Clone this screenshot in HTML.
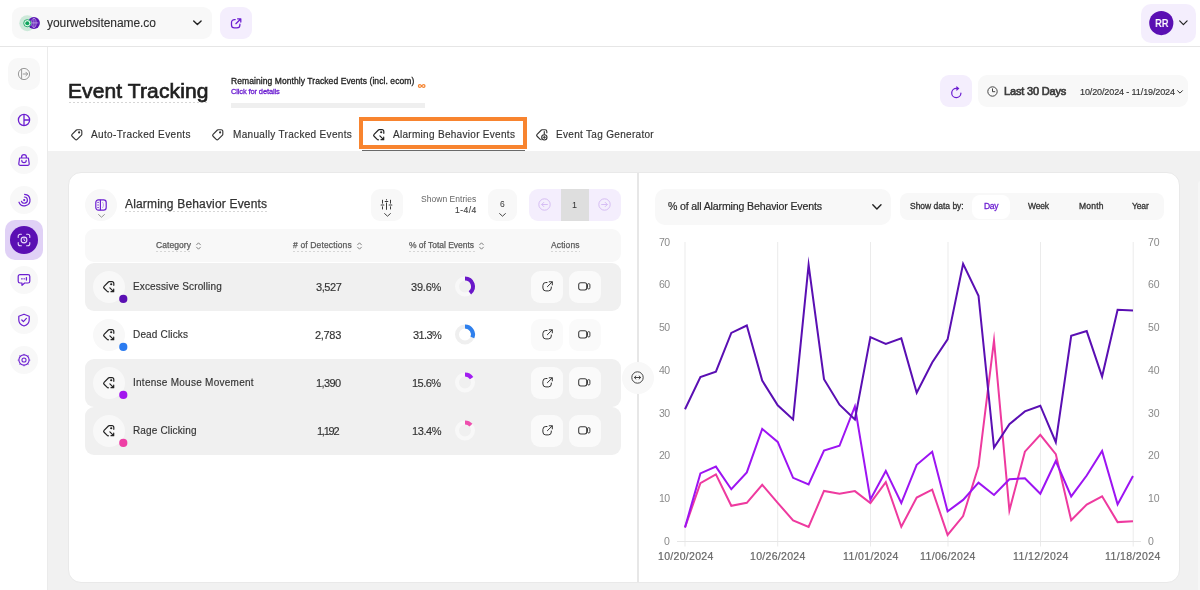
<!DOCTYPE html>
<html>
<head>
<meta charset="utf-8">
<title>Event Tracking</title>
<style>
*{box-sizing:border-box;margin:0;padding:0}
html,body{width:1200px;height:590px;overflow:hidden;background:#fff;font-family:"Liberation Sans",sans-serif;color:#2b2b2b}
.abs{position:absolute}
.t{position:absolute;white-space:pre;line-height:1;color:#2b2b2b;will-change:transform}
.b{position:absolute}
svg{position:absolute;overflow:visible}
</style>
</head>
<body>
<!-- base regions -->
<div class="b" style="left:0;top:0;width:1200px;height:46px;background:#fff"></div>
<div class="b" style="left:0;top:46px;width:1200px;height:1px;background:#e6e6e6"></div>
<div class="b" style="left:48px;top:151.3px;width:1152px;height:439px;background:#f1f1f1"></div>
<div class="b" style="left:47px;top:47px;width:1px;height:543px;background:#ebebeb"></div>

<!-- TOPBAR -->
<div class="b" style="left:12px;top:7.4px;width:199.7px;height:31.8px;border-radius:9px;background:#f8f8f8"></div>
<svg style="left:18px;top:14px" width="24" height="18" viewBox="18 14 24 18">
  <circle cx="27.3" cy="23.2" r="8" fill="#cde9da"/>
  <circle cx="33.9" cy="22.9" r="6" fill="#5a14b4"/>
  <g fill="none" stroke="#cdb6ec" stroke-width="0.7"><ellipse cx="33.9" cy="22.9" rx="2.2" ry="4.6"/><line x1="29.4" y1="22.9" x2="38.4" y2="22.9"/><line x1="33.9" y1="18.3" x2="33.9" y2="27.5"/></g>
  <circle cx="27.3" cy="23.2" r="3.6" fill="#e9f6ef" stroke="#18a862" stroke-width="0.9"/>
  <circle cx="27.3" cy="23.2" r="2" fill="#0fa45c"/>
</svg>
<svg style="left:193px;top:20px" width="9" height="6" viewBox="0 0 9 6"><path d="M0.7 0.9 L4.4 4.6 L8.1 0.9" fill="none" stroke="#222" stroke-width="1.4" stroke-linecap="round" stroke-linejoin="round"/></svg>
<div class="b" style="left:220px;top:7.4px;width:32px;height:31.8px;border-radius:9px;background:#f4eefd"></div>
<svg style="left:230px;top:17.5px" width="12" height="11" viewBox="0 0 12 11"><path d="M5.2 1.5 H4.4 A2.9 2.9 0 0 0 1.5 4.4 V7 A2.9 2.9 0 0 0 4.4 9.9 H7 A2.9 2.9 0 0 0 9.9 7 V6.2 M7.6 0.8 H10.8 V4 M10.6 1 L5.9 5.7" fill="none" stroke="#6c1fd1" stroke-width="1.25" stroke-linecap="round" stroke-linejoin="round"/></svg>
<div class="b" style="left:1141.3px;top:3.5px;width:54.6px;height:39.7px;border-radius:10px;background:#f4eefd"></div>
<svg style="left:1148px;top:10px" width="27" height="27" viewBox="0 0 27 27"><circle cx="13.3" cy="13.05" r="12.1" fill="#5a0fb3"/></svg>
<svg style="left:1179px;top:20px" width="9" height="6" viewBox="0 0 9 6"><path d="M0.7 0.9 L4.4 4.6 L8.1 0.9" fill="none" stroke="#222" stroke-width="1.2" stroke-linecap="round" stroke-linejoin="round"/></svg>

<!-- SIDEBAR -->
<div class="b" style="left:8px;top:57.5px;width:32px;height:32px;border-radius:10px;background:#f8f8f8"></div>
<svg style="left:17px;top:66.5px" width="14" height="14" viewBox="0 0 14 14"><circle cx="7" cy="7" r="5.6" fill="none" stroke="#9a9a9a" stroke-width="1"/><path d="M4.6 2.2 V11.8 M6.2 7 H10.6 M8.9 5.2 L10.7 7 L8.9 8.8" fill="none" stroke="#9a9a9a" stroke-width="1" stroke-linecap="round" stroke-linejoin="round"/></svg>
<div class="b" style="left:10px;top:106px;width:28px;height:28px;border-radius:14px;background:#f8f8f8"></div>
<svg style="left:17px;top:113px" width="14" height="14" viewBox="0 0 14 14"><circle cx="7" cy="7" r="5.6" fill="none" stroke="#6c1fd1" stroke-width="1.3"/><path d="M7 1.4 V12.6 M7 7 H12.6" fill="none" stroke="#6c1fd1" stroke-width="1.3"/></svg>
<div class="b" style="left:10px;top:146px;width:28px;height:28px;border-radius:14px;background:#f8f8f8"></div>
<svg style="left:17px;top:153px" width="14" height="14" viewBox="0 0 14 14"><path d="M2.6 5 H11.4 L12.2 10.6 A1.6 1.6 0 0 1 10.6 12.4 H3.4 A1.6 1.6 0 0 1 1.8 10.6 Z M4.6 5 V4 A2.4 2.4 0 0 1 9.4 4 V5 M4.8 7.4 A2.2 2.2 0 0 0 9.2 7.4" fill="none" stroke="#6c1fd1" stroke-width="1.2" stroke-linejoin="round" stroke-linecap="round"/></svg>
<div class="b" style="left:10px;top:186px;width:28px;height:28px;border-radius:14px;background:#f8f8f8"></div>
<svg style="left:17px;top:193px" width="14" height="14" viewBox="0 0 14 14"><path d="M7.6 1.4 A5.7 5.7 0 1 1 2 9.2 M7.4 4 A3.1 3.1 0 1 1 4.5 8.4" fill="none" stroke="#6c1fd1" stroke-width="1.2" stroke-linecap="round"/><circle cx="7.2" cy="7.1" r="1.1" fill="#6c1fd1"/></svg>
<div class="b" style="left:5px;top:220px;width:38px;height:40px;border-radius:10px;background:#e0d1f6"></div>
<div class="b" style="left:10px;top:226px;width:28px;height:28px;border-radius:14px;background:#5a0fb3"></div>
<svg style="left:17px;top:233px" width="14" height="14" viewBox="0 0 14 14"><path d="M1.2 4.4 V3.2 A2 2 0 0 1 3.2 1.2 H4.4 M9.6 1.2 H10.8 A2 2 0 0 1 12.8 3.2 V4.4 M12.8 9.6 V10.8 A2 2 0 0 1 10.8 12.8 H9.6 M4.4 12.8 H3.2 A2 2 0 0 1 1.2 10.8 V9.6" fill="none" stroke="#e9dcfa" stroke-width="1.1" stroke-linecap="round"/><circle cx="7" cy="7" r="2.9" fill="none" stroke="#e9dcfa" stroke-width="1.1"/><path d="M7 5.6 V7.1 L8 7.8" fill="none" stroke="#e9dcfa" stroke-width="0.9" stroke-linecap="round"/></svg>
<div class="b" style="left:10px;top:266px;width:28px;height:28px;border-radius:14px;background:#f8f8f8"></div>
<svg style="left:17px;top:273px" width="14" height="14" viewBox="0 0 14 14"><path d="M3 1.6 H11 A1.8 1.8 0 0 1 12.8 3.4 V8.2 A1.8 1.8 0 0 1 11 10 H7.6 L5 12.4 V10 H3 A1.8 1.8 0 0 1 1.2 8.2 V3.4 A1.8 1.8 0 0 1 3 1.6 Z" fill="none" stroke="#6c1fd1" stroke-width="1.2" stroke-linejoin="round"/><path d="M4.6 5.8 H5.2 M7 5.8 H7.4 M9.4 4.6 V7" fill="none" stroke="#6c1fd1" stroke-width="1.3" stroke-linecap="round"/></svg>
<div class="b" style="left:10px;top:306px;width:28px;height:28px;border-radius:14px;background:#f8f8f8"></div>
<svg style="left:17px;top:313px" width="14" height="14" viewBox="0 0 14 14"><path d="M7 1.2 L12.2 3.2 V7 C12.2 10 9.8 12 7 13 C4.2 12 1.8 10 1.8 7 V3.2 Z" fill="none" stroke="#6c1fd1" stroke-width="1.2" stroke-linejoin="round"/><path d="M4.8 7 L6.4 8.6 L9.4 5.4" fill="none" stroke="#6c1fd1" stroke-width="1.2" stroke-linecap="round" stroke-linejoin="round"/></svg>
<div class="b" style="left:10px;top:346px;width:28px;height:28px;border-radius:14px;background:#f8f8f8"></div>
<svg style="left:17px;top:353px" width="14" height="14" viewBox="0 0 14 14"><circle cx="7" cy="7" r="5.1" fill="none" stroke="#6c1fd1" stroke-width="1.1"/><circle cx="12.75" cy="7.00" r="0.62" fill="#6c1fd1"/><circle cx="11.07" cy="11.07" r="0.62" fill="#6c1fd1"/><circle cx="7.00" cy="12.75" r="0.62" fill="#6c1fd1"/><circle cx="2.93" cy="11.07" r="0.62" fill="#6c1fd1"/><circle cx="1.25" cy="7.00" r="0.62" fill="#6c1fd1"/><circle cx="2.93" cy="2.93" r="0.62" fill="#6c1fd1"/><circle cx="7.00" cy="1.25" r="0.62" fill="#6c1fd1"/><circle cx="11.07" cy="2.93" r="0.62" fill="#6c1fd1"/><circle cx="7" cy="7" r="2.05" fill="none" stroke="#6c1fd1" stroke-width="1.05"/></svg>

<!-- HEAD -->
<div class="b" style="left:68.5px;top:102px;width:140px;height:1px;background:repeating-linear-gradient(90deg,#d6d6d6 0 2px,transparent 2px 4px)"></div>
<div class="b" style="left:231px;top:102.5px;width:194px;height:5px;background:#efefef"></div>
<svg style="left:417.5px;top:84.2px" width="7.4" height="4.1" viewBox="0 0 9 5"><path d="M4.5 2.5 C3.6 1 2.9 0.8 2.2 0.8 A1.7 1.7 0 0 0 2.2 4.2 C2.9 4.2 3.6 4 4.5 2.5 C5.4 1 6.1 0.8 6.8 0.8 A1.7 1.7 0 0 1 6.8 4.2 C6.1 4.2 5.4 4 4.5 2.5 Z" fill="none" stroke="#f5832f" stroke-width="1.5"/></svg>
<!-- refresh + date -->
<div class="b" style="left:940px;top:75px;width:32px;height:32px;border-radius:9px;background:#f4eefd"></div>
<svg style="left:949.5px;top:84.5px" width="13" height="14" viewBox="0 0 13 14"><path d="M10.9 8.2 A4.6 4.6 0 1 1 6.4 3.4 H7.6" fill="none" stroke="#6c1fd1" stroke-width="1.25" stroke-linecap="round"/><path d="M6.4 0.9 L9.4 3.4 L6.4 5.9 Z" fill="#6c1fd1"/></svg>
<div class="b" style="left:977.5px;top:75px;width:210.5px;height:32px;border-radius:9px;background:#f8f8f8"></div>
<svg style="left:986.5px;top:86px" width="11" height="11" viewBox="0 0 11 11"><circle cx="5.5" cy="5.5" r="4.7" fill="none" stroke="#444" stroke-width="1"/><path d="M5.5 2.8 V5.7 H7.8" fill="none" stroke="#444" stroke-width="1" stroke-linecap="round" stroke-linejoin="round"/></svg>
<svg style="left:1177px;top:89.5px" width="6" height="4" viewBox="0 0 6 4"><path d="M0.6 0.7 L3 3.1 L5.4 0.7" fill="none" stroke="#333" stroke-width="1" stroke-linecap="round" stroke-linejoin="round"/></svg>

<!-- TABS -->
<svg style="left:69.9px;top:127.8px" width="13.5" height="13.5" viewBox="0 0 24 24"><g transform="translate(24,0) scale(-1,1)" fill="none" stroke="#333" stroke-width="2" stroke-linecap="round" stroke-linejoin="round"><circle cx="7.8" cy="7.8" r="0.9" fill="#333"/><path d="M3 6v5.172a2 2 0 0 0 .586 1.414l7.71 7.71a2.41 2.41 0 0 0 3.408 0l5.592 -5.592a2.41 2.41 0 0 0 0 -3.408l-7.71 -7.71a2 2 0 0 0 -1.414 -.586h-5.172a3 3 0 0 0 -3 3z"/></g></svg>
<svg style="left:211.4px;top:127.8px" width="13.5" height="13.5" viewBox="0 0 24 24"><g transform="translate(24,0) scale(-1,1)" fill="none" stroke="#333" stroke-width="2" stroke-linecap="round" stroke-linejoin="round"><circle cx="7.8" cy="7.8" r="0.9" fill="#333"/><path d="M3 6v5.172a2 2 0 0 0 .586 1.414l7.71 7.71a2.41 2.41 0 0 0 3.408 0l5.592 -5.592a2.41 2.41 0 0 0 0 -3.408l-7.71 -7.71a2 2 0 0 0 -1.414 -.586h-5.172a3 3 0 0 0 -3 3z"/></g></svg>
<svg style="left:371.9px;top:127.9px" width="13.5" height="13.5" viewBox="0 0 24 24"><g fill="none" stroke="#222" stroke-width="2.1" stroke-linecap="round" stroke-linejoin="round"><path d="M21 9.5 V6 A3 3 0 0 0 18 3 H12.83 A2 2 0 0 0 11.414 3.586 L3.704 11.296 A2.41 2.41 0 0 0 3.704 14.704 L9.296 20.296 A2.41 2.41 0 0 0 11.6 20.9"/><circle cx="16.4" cy="7.6" r="0.9" fill="#222"/><path d="M14 14 L20.6 20.6 M20.8 16 V20.8 H16"/></g></svg>
<svg style="left:535px;top:127.8px" width="13.5" height="13.5" viewBox="0 0 24 24"><g fill="none" stroke="#333" stroke-width="2" stroke-linecap="round" stroke-linejoin="round"><path d="M21 8.5 V6 A3 3 0 0 0 18 3 H12.83 A2 2 0 0 0 11.414 3.586 L3.704 11.296 A2.41 2.41 0 0 0 3.704 14.704 L9.296 20.296 A2.41 2.41 0 0 0 11 20.8"/><path d="M16.5 6.5 V11" /><circle cx="16.6" cy="16.6" r="4.7"/><path d="M16.6 14.6 V18.6 M14.6 16.6 H18.6" stroke-width="1.7"/></g></svg>
<div class="b" style="left:362px;top:149.5px;width:163px;height:1.5px;background:#6a6a6a"></div>
<div class="b" style="left:359px;top:117px;width:168px;height:32px;border:4px solid #f8842f"></div>

<!-- CARD -->
<div class="b" style="left:67.9px;top:171.9px;width:1112.4px;height:411.1px;border-radius:13px;background:#fff;border:1px solid #e9e9e9"></div>
<div class="b" style="left:636.5px;top:172.5px;width:2px;height:409.5px;background:#e7e7e7"></div>
<div class="b" style="left:1197.5px;top:181px;width:3px;height:409px;background:#f6f6f6;border-radius:3px 0 0 0"></div>

<!-- left panel header -->
<div class="b" style="left:85px;top:188.5px;width:32px;height:32px;border-radius:16px;background:#f8f8f8"></div>
<svg style="left:94.5px;top:199px" width="12" height="12" viewBox="0 0 12 12"><rect x="0.8" y="0.8" width="10.4" height="10.4" rx="2.6" fill="none" stroke="#6c1fd1" stroke-width="1.2"/><path d="M5.4 0.8 V11.2" stroke="#6c1fd1" stroke-width="1.2"/><path d="M2.2 3.4 H4 M2.2 6 H4 M2.2 8.6 H4" stroke="#6c1fd1" stroke-width="0.8"/><path d="M7.4 3 C8.8 4.6 8.8 7.4 7.4 9" fill="none" stroke="#b48aea" stroke-width="0.8"/></svg>
<svg style="left:97.5px;top:213.5px" width="7" height="4" viewBox="0 0 7 4"><path d="M0.6 0.6 L3.5 3.2 L6.4 0.6" fill="none" stroke="#888" stroke-width="0.9" stroke-linecap="round" stroke-linejoin="round"/></svg>
<div class="b" style="left:125px;top:211px;width:142px;height:1px;background:repeating-linear-gradient(90deg,#d6d6d6 0 2px,transparent 2px 4px)"></div>
<!-- filter -->
<div class="b" style="left:371px;top:188.5px;width:32px;height:32px;border-radius:9px;background:#f8f8f8"></div>
<svg style="left:380px;top:199px" width="13" height="11" viewBox="0 0 13 11"><path d="M2.5 0.8 V4.6 M2.5 7.4 V10.4 M6.5 0.2 V1.4 M6.5 3.6 V10.8 M10.5 0.8 V4.6 M10.5 7.4 V10.4" stroke="#3a3a3a" stroke-width="1" stroke-linecap="butt"/><path d="M1.2 6 H3.8 M5.2 2.5 H7.8 M9.2 6 H11.8" stroke="#3a3a3a" stroke-width="1.2" stroke-linecap="round"/></svg>
<svg style="left:383.5px;top:213px" width="7" height="4" viewBox="0 0 7 4"><path d="M0.6 0.6 L3.5 3.2 L6.4 0.6" fill="none" stroke="#333" stroke-width="0.9" stroke-linecap="round" stroke-linejoin="round"/></svg>
<!-- page size -->
<div class="b" style="left:488px;top:188.5px;width:29px;height:32px;border-radius:9px;background:#f8f8f8"></div>
<svg style="left:498.5px;top:212.5px" width="7" height="4" viewBox="0 0 7 4"><path d="M0.6 0.6 L3.5 3.2 L6.4 0.6" fill="none" stroke="#333" stroke-width="0.9" stroke-linecap="round" stroke-linejoin="round"/></svg>
<!-- pager -->
<div class="b" style="left:528.5px;top:188.5px;width:92px;height:32px;border-radius:9px;background:#f4eefd;overflow:hidden"><div class="b" style="left:32px;top:0;width:28px;height:32px;background:#dedede"></div></div>
<svg style="left:538px;top:197.5px" width="13" height="13" viewBox="0 0 13 13"><circle cx="6.5" cy="6.5" r="5.7" fill="none" stroke="#d6bdf4" stroke-width="1"/><path d="M9.4 6.5 H3.8 M5.8 4.4 L3.7 6.5 L5.8 8.6" fill="none" stroke="#d6bdf4" stroke-width="1" stroke-linecap="round" stroke-linejoin="round"/></svg>
<svg style="left:597.5px;top:197.5px" width="13" height="13" viewBox="0 0 13 13"><circle cx="6.5" cy="6.5" r="5.7" fill="none" stroke="#d6bdf4" stroke-width="1"/><path d="M3.6 6.5 H9.2 M7.2 4.4 L9.3 6.5 L7.2 8.6" fill="none" stroke="#d6bdf4" stroke-width="1" stroke-linecap="round" stroke-linejoin="round"/></svg>

<!-- table header -->
<div class="b" style="left:85px;top:229px;width:535.5px;height:33px;border-radius:9px;background:#f8f8f8"></div>
<div class="b" style="left:156px;top:251px;width:35.5px;height:1px;background:repeating-linear-gradient(90deg,#d6d6d6 0 2px,transparent 2px 4px)"></div>
<div class="b" style="left:293px;top:251px;width:59px;height:1px;background:repeating-linear-gradient(90deg,#d6d6d6 0 2px,transparent 2px 4px)"></div>
<div class="b" style="left:409px;top:251px;width:65.5px;height:1px;background:repeating-linear-gradient(90deg,#d6d6d6 0 2px,transparent 2px 4px)"></div>
<div class="b" style="left:550.5px;top:251px;width:29px;height:1px;background:repeating-linear-gradient(90deg,#d6d6d6 0 2px,transparent 2px 4px)"></div>
<svg style="left:195.5px;top:241.5px" width="5" height="8" viewBox="0 0 5 8"><g><path d="M0.6 2.8 L2.5 0.8 L4.4 2.8 M0.6 5.2 L2.5 7.2 L4.4 5.2" fill="none" stroke="#666" stroke-width="0.8" stroke-linecap="round" stroke-linejoin="round"/></g></svg>
<svg style="left:356.5px;top:241.5px" width="5" height="8" viewBox="0 0 5 8"><g><path d="M0.6 2.8 L2.5 0.8 L4.4 2.8 M0.6 5.2 L2.5 7.2 L4.4 5.2" fill="none" stroke="#666" stroke-width="0.8" stroke-linecap="round" stroke-linejoin="round"/></g></svg>
<svg style="left:479px;top:241.5px" width="5" height="8" viewBox="0 0 5 8"><g><path d="M0.6 2.8 L2.5 0.8 L4.4 2.8 M0.6 5.2 L2.5 7.2 L4.4 5.2" fill="none" stroke="#666" stroke-width="0.8" stroke-linecap="round" stroke-linejoin="round"/></g></svg>

<!-- rows -->
<div class="b" style="left:84.5px;top:262.5px;width:536px;height:48px;border-radius:9px;background:#f0f0f0"></div>
<div class="b" style="left:84.5px;top:358.5px;width:536px;height:48px;border-radius:9px;background:#f0f0f0"></div>
<div class="b" style="left:84.5px;top:406.5px;width:536px;height:48px;border-radius:9px;background:#f0f0f0"></div>
<div class="b" style="left:92.5px;top:270.5px;width:32px;height:32px;border-radius:16px;background:#f8f8f8"></div>
<svg style="left:102px;top:279.9px" width="13.5" height="13.5" viewBox="0 0 24 24"><g fill="none" stroke="#222" stroke-width="2.1" stroke-linecap="round" stroke-linejoin="round"><path d="M21 9.5 V6 A3 3 0 0 0 18 3 H12.83 A2 2 0 0 0 11.414 3.586 L3.704 11.296 A2.41 2.41 0 0 0 3.704 14.704 L9.296 20.296 A2.41 2.41 0 0 0 11.6 20.9"/><circle cx="16.4" cy="7.6" r="0.9" fill="#222"/><path d="M14 14 L20.6 20.6 M20.8 16 V20.8 H16"/></g></svg>
<svg style="left:118px;top:293.5px" width="11" height="11" viewBox="0 0 11 11"><circle cx="5.3" cy="4.9" r="4.1" fill="#5a0fb3"/></svg>
<svg style="left:0;top:0" width="1200" height="590" viewBox="0 0 1200 590"><circle cx="465" cy="286.5" r="8.0" fill="none" stroke="#f8f8f8" stroke-width="4.0"/><path d="M465 278.5 A8.0 8.0 0 0 1 469.86 292.85" fill="none" stroke="#6a17c9" stroke-width="4.0"/></svg>
<div class="b" style="left:531.3px;top:270.6px;width:32px;height:32.2px;border-radius:9px;background:#fafafa"></div>
<div class="b" style="left:568.6px;top:270.6px;width:32.2px;height:32.2px;border-radius:9px;background:#fafafa"></div>
<svg style="left:541.6px;top:280.8px" width="12" height="11" viewBox="0 0 12 11"><path d="M5 1.5 H3.8 A2.9 2.9 0 0 0 0.9 4.4 V7 A2.9 2.9 0 0 0 3.8 9.9 H6.4 A2.9 2.9 0 0 0 9.3 7 V6 M7.2 0.8 H10.3 V3.9 M10.1 1 L5.4 5.7" fill="none" stroke="#333" stroke-width="1.0" stroke-linecap="round" stroke-linejoin="round"/></svg>
<svg style="left:578.4px;top:281.9px" width="13" height="9" viewBox="0 0 13 9"><rect x="0.7" y="0.7" width="8" height="7.2" rx="2" fill="none" stroke="#3a3a3a" stroke-width="1.05"/><rect x="9.5" y="1.6" width="2.4" height="5.4" rx="1.2" fill="none" stroke="#3a3a3a" stroke-width="1.0"/></svg>
<div class="b" style="left:92.5px;top:318.5px;width:32px;height:32px;border-radius:16px;background:#f8f8f8"></div>
<svg style="left:102px;top:327.9px" width="13.5" height="13.5" viewBox="0 0 24 24"><g fill="none" stroke="#222" stroke-width="2.1" stroke-linecap="round" stroke-linejoin="round"><path d="M21 9.5 V6 A3 3 0 0 0 18 3 H12.83 A2 2 0 0 0 11.414 3.586 L3.704 11.296 A2.41 2.41 0 0 0 3.704 14.704 L9.296 20.296 A2.41 2.41 0 0 0 11.6 20.9"/><circle cx="16.4" cy="7.6" r="0.9" fill="#222"/><path d="M14 14 L20.6 20.6 M20.8 16 V20.8 H16"/></g></svg>
<svg style="left:118px;top:341.5px" width="11" height="11" viewBox="0 0 11 11"><circle cx="5.3" cy="4.9" r="4.1" fill="#2b7bf0"/></svg>
<svg style="left:0;top:0" width="1200" height="590" viewBox="0 0 1200 590"><circle cx="465" cy="334.5" r="8.0" fill="none" stroke="#efefef" stroke-width="4.0"/><path d="M465 326.5 A8.0 8.0 0 0 1 472.38 337.58" fill="none" stroke="#2f80ed" stroke-width="4.0"/></svg>
<div class="b" style="left:531.3px;top:318.6px;width:32px;height:32.2px;border-radius:9px;background:#fafafa"></div>
<div class="b" style="left:568.6px;top:318.6px;width:32.2px;height:32.2px;border-radius:9px;background:#fafafa"></div>
<svg style="left:541.6px;top:328.8px" width="12" height="11" viewBox="0 0 12 11"><path d="M5 1.5 H3.8 A2.9 2.9 0 0 0 0.9 4.4 V7 A2.9 2.9 0 0 0 3.8 9.9 H6.4 A2.9 2.9 0 0 0 9.3 7 V6 M7.2 0.8 H10.3 V3.9 M10.1 1 L5.4 5.7" fill="none" stroke="#333" stroke-width="1.0" stroke-linecap="round" stroke-linejoin="round"/></svg>
<svg style="left:578.4px;top:329.9px" width="13" height="9" viewBox="0 0 13 9"><rect x="0.7" y="0.7" width="8" height="7.2" rx="2" fill="none" stroke="#3a3a3a" stroke-width="1.05"/><rect x="9.5" y="1.6" width="2.4" height="5.4" rx="1.2" fill="none" stroke="#3a3a3a" stroke-width="1.0"/></svg>
<div class="b" style="left:92.5px;top:366.5px;width:32px;height:32px;border-radius:16px;background:#f8f8f8"></div>
<svg style="left:102px;top:375.9px" width="13.5" height="13.5" viewBox="0 0 24 24"><g fill="none" stroke="#222" stroke-width="2.1" stroke-linecap="round" stroke-linejoin="round"><path d="M21 9.5 V6 A3 3 0 0 0 18 3 H12.83 A2 2 0 0 0 11.414 3.586 L3.704 11.296 A2.41 2.41 0 0 0 3.704 14.704 L9.296 20.296 A2.41 2.41 0 0 0 11.6 20.9"/><circle cx="16.4" cy="7.6" r="0.9" fill="#222"/><path d="M14 14 L20.6 20.6 M20.8 16 V20.8 H16"/></g></svg>
<svg style="left:118px;top:389.5px" width="11" height="11" viewBox="0 0 11 11"><circle cx="5.3" cy="4.9" r="4.1" fill="#a216ee"/></svg>
<svg style="left:0;top:0" width="1200" height="590" viewBox="0 0 1200 590"><circle cx="465" cy="382.5" r="8.0" fill="none" stroke="#f8f8f8" stroke-width="4.0"/><path d="M465 374.5 A8.0 8.0 0 0 1 471.64 378.04" fill="none" stroke="#a21df0" stroke-width="4.0"/></svg>
<div class="b" style="left:531.3px;top:366.6px;width:32px;height:32.2px;border-radius:9px;background:#fafafa"></div>
<div class="b" style="left:568.6px;top:366.6px;width:32.2px;height:32.2px;border-radius:9px;background:#fafafa"></div>
<svg style="left:541.6px;top:376.8px" width="12" height="11" viewBox="0 0 12 11"><path d="M5 1.5 H3.8 A2.9 2.9 0 0 0 0.9 4.4 V7 A2.9 2.9 0 0 0 3.8 9.9 H6.4 A2.9 2.9 0 0 0 9.3 7 V6 M7.2 0.8 H10.3 V3.9 M10.1 1 L5.4 5.7" fill="none" stroke="#333" stroke-width="1.0" stroke-linecap="round" stroke-linejoin="round"/></svg>
<svg style="left:578.4px;top:377.9px" width="13" height="9" viewBox="0 0 13 9"><rect x="0.7" y="0.7" width="8" height="7.2" rx="2" fill="none" stroke="#3a3a3a" stroke-width="1.05"/><rect x="9.5" y="1.6" width="2.4" height="5.4" rx="1.2" fill="none" stroke="#3a3a3a" stroke-width="1.0"/></svg>
<div class="b" style="left:92.5px;top:414.5px;width:32px;height:32px;border-radius:16px;background:#f8f8f8"></div>
<svg style="left:102px;top:423.9px" width="13.5" height="13.5" viewBox="0 0 24 24"><g fill="none" stroke="#222" stroke-width="2.1" stroke-linecap="round" stroke-linejoin="round"><path d="M21 9.5 V6 A3 3 0 0 0 18 3 H12.83 A2 2 0 0 0 11.414 3.586 L3.704 11.296 A2.41 2.41 0 0 0 3.704 14.704 L9.296 20.296 A2.41 2.41 0 0 0 11.6 20.9"/><circle cx="16.4" cy="7.6" r="0.9" fill="#222"/><path d="M14 14 L20.6 20.6 M20.8 16 V20.8 H16"/></g></svg>
<svg style="left:118px;top:437.5px" width="11" height="11" viewBox="0 0 11 11"><circle cx="5.3" cy="4.9" r="4.1" fill="#ee3fa5"/></svg>
<svg style="left:0;top:0" width="1200" height="590" viewBox="0 0 1200 590"><circle cx="465" cy="430.5" r="8.0" fill="none" stroke="#f8f8f8" stroke-width="4.0"/><path d="M465 422.5 A8.0 8.0 0 0 1 470.97 425.17" fill="none" stroke="#ee4fae" stroke-width="4.0"/></svg>
<div class="b" style="left:531.3px;top:414.6px;width:32px;height:32.2px;border-radius:9px;background:#fafafa"></div>
<div class="b" style="left:568.6px;top:414.6px;width:32.2px;height:32.2px;border-radius:9px;background:#fafafa"></div>
<svg style="left:541.6px;top:424.8px" width="12" height="11" viewBox="0 0 12 11"><path d="M5 1.5 H3.8 A2.9 2.9 0 0 0 0.9 4.4 V7 A2.9 2.9 0 0 0 3.8 9.9 H6.4 A2.9 2.9 0 0 0 9.3 7 V6 M7.2 0.8 H10.3 V3.9 M10.1 1 L5.4 5.7" fill="none" stroke="#333" stroke-width="1.0" stroke-linecap="round" stroke-linejoin="round"/></svg>
<svg style="left:578.4px;top:425.9px" width="13" height="9" viewBox="0 0 13 9"><rect x="0.7" y="0.7" width="8" height="7.2" rx="2" fill="none" stroke="#3a3a3a" stroke-width="1.05"/><rect x="9.5" y="1.6" width="2.4" height="5.4" rx="1.2" fill="none" stroke="#3a3a3a" stroke-width="1.0"/></svg>

<!-- splitter -->
<div class="b" style="left:621.5px;top:361.5px;width:32px;height:32px;border-radius:16px;background:#f8f8f8"></div>
<svg style="left:631px;top:371px" width="13" height="13" viewBox="0 0 13 13"><circle cx="6.5" cy="6.5" r="5.7" fill="none" stroke="#444" stroke-width="1"/><path d="M3.4 6.5 H9.6 M4.9 5 L3.3 6.5 L4.9 8 M8.1 5 L9.7 6.5 L8.1 8" fill="none" stroke="#444" stroke-width="1" stroke-linecap="round" stroke-linejoin="round"/></svg>

<!-- right panel header -->
<div class="b" style="left:655px;top:188.5px;width:236px;height:36px;border-radius:10px;background:#f8f8f8"></div>
<svg style="left:872px;top:203.5px" width="10" height="6" viewBox="0 0 10 6"><path d="M0.8 0.8 L4.9 4.9 L9 0.8" fill="none" stroke="#222" stroke-width="1.4" stroke-linecap="round" stroke-linejoin="round"/></svg>
<div class="b" style="left:899.5px;top:193px;width:264px;height:27px;border-radius:8px;background:#f8f8f8"></div>
<div class="b" style="left:971.5px;top:194.5px;width:38.5px;height:24px;border-radius:8px;background:#fff"></div>

<svg class="abs" style="left:0;top:0" width="1200" height="590" viewBox="0 0 1200 590">
<line x1="685" y1="242" x2="685" y2="546.5" stroke="#ebebeb" stroke-width="1"/>
<line x1="777.7" y1="242" x2="777.7" y2="546.5" stroke="#ebebeb" stroke-width="1"/>
<line x1="870.5" y1="242" x2="870.5" y2="546.5" stroke="#ebebeb" stroke-width="1"/>
<line x1="948" y1="242" x2="948" y2="546.5" stroke="#ebebeb" stroke-width="1"/>
<line x1="1040.5" y1="242" x2="1040.5" y2="546.5" stroke="#ebebeb" stroke-width="1"/>
<line x1="1133.2" y1="242" x2="1133.2" y2="546.5" stroke="#ebebeb" stroke-width="1"/>
<line x1="677" y1="541.5" x2="1141" y2="541.5" stroke="#e6e6e6" stroke-width="1"/>
<polyline fill="none" stroke="#ee3a9f" stroke-width="2" stroke-linejoin="miter" stroke-miterlimit="12" stroke-linecap="butt" points="685.0,527.4 700.4,483.2 715.9,474.3 731.3,505.8 746.8,502.8 762.2,484.8 777.7,502.9 793.1,520.3 808.6,527.0 824.0,490.9 839.5,493.8 854.9,491.1 870.4,503.1 885.8,482.1 901.3,526.8 916.7,497.5 932.2,489.7 947.6,534.9 963.1,516.1 978.5,466.3 994.0,340.4 1009.4,510.5 1024.9,451.7 1040.3,434.8 1055.8,454.1 1071.2,520.3 1086.7,504.5 1102.1,496.3 1117.6,522.1 1133.0,521.3"/>
<polyline fill="none" stroke="#9d14f2" stroke-width="2" stroke-linejoin="miter" stroke-miterlimit="12" stroke-linecap="butt" points="685.0,527.4 700.4,473.4 715.9,466.6 731.3,489.2 746.8,472.4 762.2,428.9 777.7,441.9 793.1,477.8 808.6,484.5 824.0,450.5 839.5,445.8 854.9,406.4 870.4,499.4 885.8,470.9 901.3,503.0 916.7,464.8 932.2,451.8 947.6,511.4 963.1,499.9 978.5,482.6 994.0,495.0 1009.4,479.2 1024.9,478.3 1040.3,493.7 1055.8,461.0 1071.2,496.4 1086.7,475.5 1102.1,450.9 1117.6,504.4 1133.0,476.1"/>
<polyline fill="none" stroke="#5a0fb3" stroke-width="2" stroke-linejoin="miter" stroke-miterlimit="12" stroke-linecap="butt" points="685.0,409.2 700.4,377.0 715.9,371.6 731.3,332.9 746.8,325.5 762.2,380.6 777.7,405.3 793.1,419.4 808.6,264.8 824.0,379.2 839.5,404.7 854.9,419.5 870.4,337.1 885.8,344.0 901.3,338.4 916.7,392.7 932.2,362.5 947.6,339.4 963.1,263.8 978.5,295.7 994.0,447.6 1009.4,424.2 1024.9,411.4 1040.3,405.7 1055.8,442.2 1071.2,335.8 1086.7,331.1 1102.1,376.6 1117.6,309.7 1133.0,310.4"/>
</svg>
<div class="t" style="left:46.60px;top:17.00px;font-size:12px;color:#2e2e2e;letter-spacing:-0.068px;-webkit-text-stroke:0.1px currentColor;">yourwebsitename.co</div>
<div class="t" style="left:1154.90px;top:18.00px;font-size:11.5px;font-weight:bold;color:#fff;transform:scaleX(.82);transform-origin:0 0;">RR</div>
<div class="t" style="left:68.30px;top:80.00px;font-size:21px;color:#1f1f1f;letter-spacing:0.115px;-webkit-text-stroke:0.7px currentColor;">Event Tracking</div>
<div class="t" style="left:231.25px;top:77.00px;font-size:8.5px;color:#222;letter-spacing:0.074px;-webkit-text-stroke:0.3px currentColor;">Remaining Monthly Tracked Events (incl. ecom)</div>
<div class="t" style="left:231.25px;top:88.00px;font-size:7.5px;color:#6c1fd1;letter-spacing:-0.132px;-webkit-text-stroke:0.3px currentColor;">Click for details</div>
<div class="t" style="left:91.00px;top:130.00px;font-size:10px;color:#333;letter-spacing:0.360px;-webkit-text-stroke:0.15px currentColor;">Auto-Tracked Events</div>
<div class="t" style="left:232.50px;top:130.00px;font-size:10px;color:#333;letter-spacing:0.320px;-webkit-text-stroke:0.15px currentColor;">Manually Tracked Events</div>
<div class="t" style="left:392.60px;top:130.00px;font-size:10px;color:#333;letter-spacing:0.297px;-webkit-text-stroke:0.15px currentColor;">Alarming Behavior Events</div>
<div class="t" style="left:556.30px;top:130.00px;font-size:10px;color:#333;letter-spacing:0.311px;-webkit-text-stroke:0.15px currentColor;">Event Tag Generator</div>
<div class="t" style="left:1004.00px;top:86.00px;font-size:11px;color:#3a3a3a;letter-spacing:-0.178px;-webkit-text-stroke:0.65px currentColor;">Last 30 Days</div>
<div class="t" style="left:1080.00px;top:88.00px;font-size:9px;color:#333;letter-spacing:-0.110px;-webkit-text-stroke:0.15px currentColor;">10/20/2024 - 11/19/2024</div>
<div class="t" style="left:125.00px;top:198.00px;font-size:12px;color:#333;letter-spacing:0.171px;-webkit-text-stroke:0.25px currentColor;">Alarming Behavior Events</div>
<div class="t" style="left:156.25px;top:241.00px;font-size:8.5px;color:#5a5a5a;letter-spacing:0.071px;-webkit-text-stroke:0.25px currentColor;">Category</div>
<div class="t" style="left:293.25px;top:241.00px;font-size:8.5px;color:#5a5a5a;letter-spacing:0.146px;-webkit-text-stroke:0.25px currentColor;"># of Detections</div>
<div class="t" style="left:409.25px;top:241.00px;font-size:8.5px;color:#5a5a5a;letter-spacing:-0.033px;-webkit-text-stroke:0.25px currentColor;">% of Total Events</div>
<div class="t" style="left:550.75px;top:241.00px;font-size:8.5px;color:#5a5a5a;letter-spacing:0.104px;-webkit-text-stroke:0.25px currentColor;">Actions</div>
<div class="t" style="left:420.50px;top:195.00px;font-size:8.5px;color:#666;letter-spacing:0.036px;">Shown Entries</div>
<div class="t" style="left:454.50px;top:206.00px;font-size:8.5px;color:#444;letter-spacing:0.469px;-webkit-text-stroke:0.15px currentColor;">1-4/4</div>
<div class="t" style="left:499.63px;top:200.00px;font-size:8.5px;color:#333;">6</div>
<div class="t" style="left:571.99px;top:201.00px;font-size:9px;color:#333;">1</div>
<div class="t" style="left:132.50px;top:282.00px;font-size:10px;color:#333;letter-spacing:0.144px;-webkit-text-stroke:0.15px currentColor;">Excessive Scrolling</div>
<div class="t" style="left:315.50px;top:282.00px;font-size:11px;color:#333;letter-spacing:-0.445px;-webkit-text-stroke:0.15px currentColor;">3,527</div>
<div class="t" style="left:410.80px;top:282.00px;font-size:11px;color:#333;letter-spacing:-0.201px;-webkit-text-stroke:0.15px currentColor;">39.6%</div>
<div class="t" style="left:132.50px;top:330.00px;font-size:10px;color:#333;letter-spacing:0.164px;-webkit-text-stroke:0.15px currentColor;">Dead Clicks</div>
<div class="t" style="left:315.00px;top:330.00px;font-size:11px;color:#333;letter-spacing:-0.320px;-webkit-text-stroke:0.15px currentColor;">2,783</div>
<div class="t" style="left:412.50px;top:330.00px;font-size:11px;color:#333;letter-spacing:-0.626px;-webkit-text-stroke:0.15px currentColor;">31.3%</div>
<div class="t" style="left:132.50px;top:378.00px;font-size:10px;color:#333;letter-spacing:0.264px;-webkit-text-stroke:0.15px currentColor;">Intense Mouse Movement</div>
<div class="t" style="left:315.90px;top:378.00px;font-size:11px;color:#333;letter-spacing:-0.608px;-webkit-text-stroke:0.15px currentColor;">1,390</div>
<div class="t" style="left:412.40px;top:378.00px;font-size:11px;color:#333;letter-spacing:-0.526px;-webkit-text-stroke:0.15px currentColor;">15.6%</div>
<div class="t" style="left:132.50px;top:426.00px;font-size:10px;color:#333;letter-spacing:0.150px;-webkit-text-stroke:0.15px currentColor;">Rage Clicking</div>
<div class="t" style="left:317.00px;top:426.00px;font-size:11px;color:#333;letter-spacing:-1.258px;-webkit-text-stroke:0.15px currentColor;">1,192</div>
<div class="t" style="left:411.90px;top:426.00px;font-size:11px;color:#333;letter-spacing:-0.401px;-webkit-text-stroke:0.15px currentColor;">13.4%</div>
<div class="t" style="left:667.50px;top:201.00px;font-size:10.6px;letter-spacing:-0.156px;-webkit-text-stroke:0.2px currentColor;">% of all Alarming Behavior Events</div>
<div class="t" style="left:909.90px;top:202.00px;font-size:8.5px;color:#333;letter-spacing:-0.015px;-webkit-text-stroke:0.3px currentColor;">Show data by:</div>
<div class="t" style="left:983.50px;top:202.00px;font-size:8.5px;color:#6c1fd1;letter-spacing:-0.312px;-webkit-text-stroke:0.3px currentColor;">Day</div>
<div class="t" style="left:1027.70px;top:202.00px;font-size:8.5px;color:#333;letter-spacing:-0.226px;-webkit-text-stroke:0.3px currentColor;">Week</div>
<div class="t" style="left:1078.60px;top:202.00px;font-size:8.5px;color:#333;letter-spacing:0.219px;-webkit-text-stroke:0.3px currentColor;">Month</div>
<div class="t" style="left:1132.30px;top:202.00px;font-size:8.5px;color:#333;letter-spacing:-0.129px;-webkit-text-stroke:0.3px currentColor;">Year</div>
<div class="t" style="left:664.00px;top:536.00px;font-size:10.5px;color:#8a8a8a;">0</div>
<div class="t" style="left:1148.30px;top:536.00px;font-size:10.5px;color:#8a8a8a;">0</div>
<div class="t" style="left:658.70px;top:493.00px;font-size:10.5px;color:#8a8a8a;letter-spacing:-0.488px;">10</div>
<div class="t" style="left:1148.30px;top:493.00px;font-size:10.5px;color:#8a8a8a;letter-spacing:0.013px;">10</div>
<div class="t" style="left:658.70px;top:450.00px;font-size:10.5px;color:#8a8a8a;letter-spacing:-0.488px;">20</div>
<div class="t" style="left:1148.30px;top:450.00px;font-size:10.5px;color:#8a8a8a;letter-spacing:0.013px;">20</div>
<div class="t" style="left:658.70px;top:408.00px;font-size:10.5px;color:#8a8a8a;letter-spacing:-0.488px;">30</div>
<div class="t" style="left:1148.30px;top:408.00px;font-size:10.5px;color:#8a8a8a;letter-spacing:0.013px;">30</div>
<div class="t" style="left:658.70px;top:365.00px;font-size:10.5px;color:#8a8a8a;letter-spacing:-0.488px;">40</div>
<div class="t" style="left:1148.30px;top:365.00px;font-size:10.5px;color:#8a8a8a;letter-spacing:0.013px;">40</div>
<div class="t" style="left:658.70px;top:322.00px;font-size:10.5px;color:#8a8a8a;letter-spacing:-0.488px;">50</div>
<div class="t" style="left:1148.30px;top:322.00px;font-size:10.5px;color:#8a8a8a;letter-spacing:0.013px;">50</div>
<div class="t" style="left:658.70px;top:279.00px;font-size:10.5px;color:#8a8a8a;letter-spacing:-0.488px;">60</div>
<div class="t" style="left:1148.30px;top:279.00px;font-size:10.5px;color:#8a8a8a;letter-spacing:0.013px;">60</div>
<div class="t" style="left:658.70px;top:237.00px;font-size:10.5px;color:#8a8a8a;letter-spacing:-0.488px;">70</div>
<div class="t" style="left:1148.30px;top:237.00px;font-size:10.5px;color:#8a8a8a;letter-spacing:0.013px;">70</div>
<div class="t" style="left:657.55px;top:551.00px;font-size:10.5px;color:#666;letter-spacing:0.304px;-webkit-text-stroke:0.2px currentColor;">10/20/2024</div>
<div class="t" style="left:750.05px;top:551.00px;font-size:10.5px;color:#666;letter-spacing:0.304px;-webkit-text-stroke:0.2px currentColor;">10/26/2024</div>
<div class="t" style="left:843.05px;top:551.00px;font-size:10.5px;color:#666;letter-spacing:0.391px;-webkit-text-stroke:0.2px currentColor;">11/01/2024</div>
<div class="t" style="left:920.35px;top:551.00px;font-size:10.5px;color:#666;letter-spacing:0.391px;-webkit-text-stroke:0.2px currentColor;">11/06/2024</div>
<div class="t" style="left:1012.85px;top:551.00px;font-size:10.5px;color:#666;letter-spacing:0.391px;-webkit-text-stroke:0.2px currentColor;">11/12/2024</div>
<div class="t" style="left:1105.35px;top:551.00px;font-size:10.5px;color:#666;letter-spacing:0.391px;-webkit-text-stroke:0.2px currentColor;">11/18/2024</div>
</body>
</html>
